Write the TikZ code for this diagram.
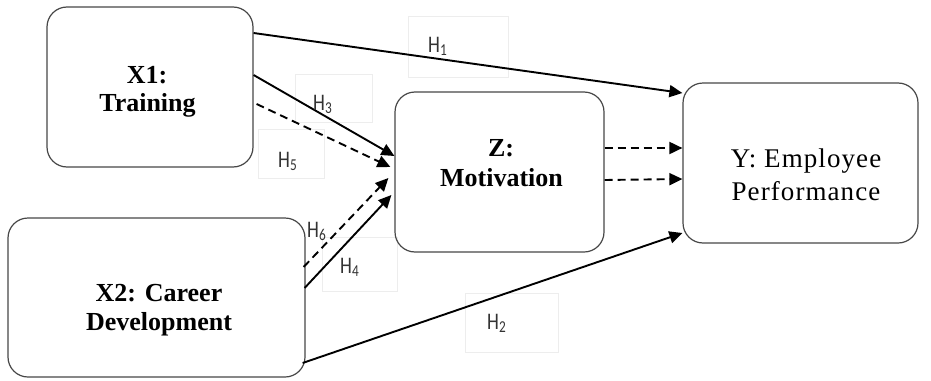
\documentclass[tikz,border=0pt]{standalone}
\usepackage{fontspec}
\setmainfont{Liberation Serif}
\newfontfamily\hfont{Carlito}
\usetikzlibrary{arrows.meta}
\tikzset{
 box/.style={draw=black!72, line width=1.2pt, rounded corners=20pt, inner sep=0pt},
 bt/.style={font=\fontsize{26}{26}\selectfont\bfseries, anchor=base, inner sep=0pt},
 yt/.style={font=\fontsize{27}{27}\selectfont\addfontfeature{LetterSpace=4}, anchor=base, inner sep=0pt},
 hl/.style={font=\hfont\fontsize{19}{19}\selectfont, text=black!80, inner sep=0pt, anchor=base west},
 hbox/.style={draw=black!7, line width=0.8pt},
 arr/.style={-{Triangle[length=13pt,width=12pt]}, line width=1.9pt},
 dsh/.style={arr, dash pattern=on 8pt off 5pt},
}
\newcommand{\hlab}[1]{\scalebox{1}[1.25]{H\textsubscript{#1}}}
\begin{document}
\begin{tikzpicture}[x=1pt,y=-1pt]
\useasboundingbox (0,0) rectangle (931,380);
% faint label boxes
\draw[hbox] (408,16) rectangle (508,77);
\draw[hbox] (295,74) rectangle (372,122);
\draw[hbox] (258,129) rectangle (324,178);
\draw[hbox] (322,237) rectangle (397,291);
\draw[hbox] (465,293) rectangle (558,352);
% boxes
\node[box, minimum width=206pt, minimum height=160pt] (x1) at (150,87) {};
\node[box, minimum width=297pt, minimum height=159pt] (x2) at (156.5,297.5) {};
\node[box, minimum width=209pt, minimum height=160pt] (z) at (499.5,172) {};
\node[box, minimum width=235pt, minimum height=160pt] (y) at (800.5,163) {};
% texts
\node[bt] (x1a) at (147,83) {X1:};
\node[bt] (x1b) at (147.5,111) {Training};
\node[bt] (x2a) at (159,301) {X2: Career};
\node[bt] (x2b) at (159,330) {Development};
\node[bt] (za) at (501,156) {Z:};
\node[bt] (zb) at (501.5,186) {Motivation};
\node[yt] (ya) at (806,167) {Y: Employee};
\node[yt] (yb) at (806,200) {Performance};
% arrows
\draw[arr] (x1.east |- 0,33) -- (y.west |- 0,93);
\draw[arr] (x1.east |- 0,75) -- (z.west |- 0,156);
\draw[dsh] ([xshift=3pt]x1.east |- 0,104) -- ([xshift=-4pt]z.west |- 0,167);
\draw[dsh] ([xshift=-2pt]x2.east |- 0,267) -- ([xshift=-6pt]z.west |- 0,178);
\draw[arr] ([xshift=-1pt]x2.east |- 0,288) -- ([xshift=-3pt]z.west |- 0,195);
\draw[arr] ([xshift=-3pt]x2.east |- 0,363) -- (y.west |- 0,233);
\draw[dsh] (z.east |- 0,148) -- (y.west |- 0,148);
\draw[dsh] (z.east |- 0,180) -- (y.west |- 0,179);
% labels
\node[hl] (h1) at (428,52) {\hlab{1}};
\node[hl] (h3) at (313,110) {\hlab{3}};
\node[hl] (h5) at (278,167) {\hlab{5}};
\node[hl] (h6) at (307,237) {\hlab{6}};
\node[hl] (h4) at (340,273) {\hlab{4}};
\node[hl] (h2) at (487,329) {\hlab{2}};
\end{tikzpicture}
\end{document}
